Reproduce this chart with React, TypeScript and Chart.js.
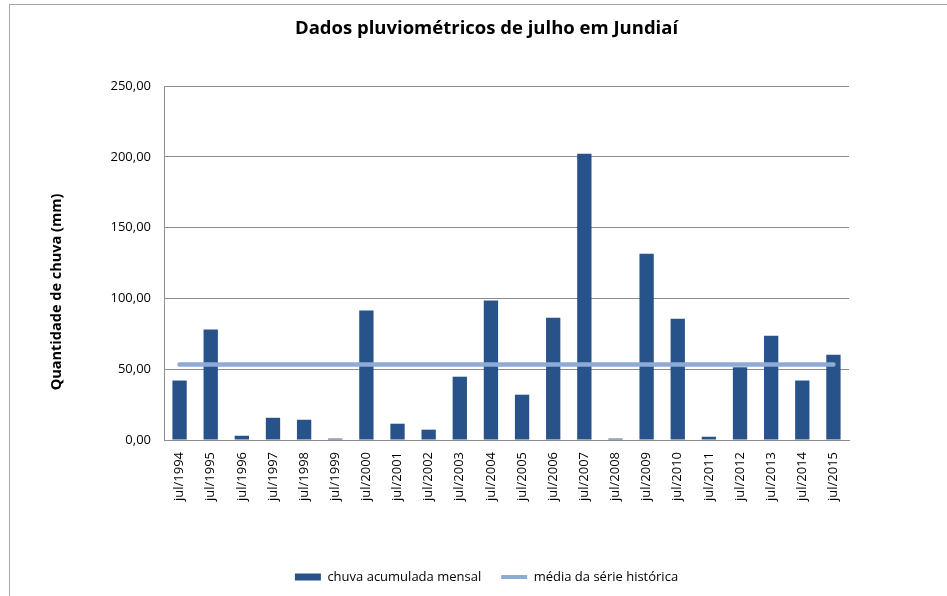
import React, { useEffect, useRef } from "react";
import { Chart, registerables } from "chart.js";

Chart.register(...registerables);

const categories = [
  "jul/1994", "jul/1995", "jul/1996", "jul/1997", "jul/1998", "jul/1999",
  "jul/2000", "jul/2001", "jul/2002", "jul/2003", "jul/2004", "jul/2005",
  "jul/2006", "jul/2007", "jul/2008", "jul/2009", "jul/2010", "jul/2011",
  "jul/2012", "jul/2013", "jul/2014", "jul/2015",
];

const monthlyRain = [
  42.0, 78.0, 3.0, 15.7, 14.3, 1.0, 91.4, 11.5, 7.3, 44.7, 98.6, 32.0,
  86.4, 202.2, 1.0, 131.6, 85.7, 2.3, 51.3, 73.6, 42.0, 60.2,
];

const historicalMean = [
  53.4, 53.4, 53.4, 53.4, 53.4, 53.4, 53.4, 53.4, 53.4, 53.4, 53.4, 53.4,
  53.4, 53.4, 53.4, 53.4, 53.4, 53.4, 53.4, 53.4, 53.4, 53.4,
];

const yTicks = [0, 50, 100, 150, 200, 250];

const titleText = "Dados pluviométricos de julho em Jundiaí";
const yTitleText = "Quantidade de chuva (mm)";
const barLabel = "chuva acumulada mensal";
const lineLabel = "média da série histórica";

const FONT = "'Open Sans', sans-serif";

const framePlugin = {
  id: "frameAndYTitle",
  beforeDraw(chart: any) {
    const ctx = chart.ctx;
    ctx.save();
    ctx.fillStyle = "#ffffff";
    ctx.fillRect(0, 0, chart.width, chart.height);
    ctx.strokeStyle = "#a6a6a6";
    ctx.lineWidth = 1;
    ctx.strokeRect(9.5, 4.5, 2000, 2000);
    ctx.restore();
  },
  afterDraw(chart: any) {
    const ctx = chart.ctx;
    ctx.save();
    ctx.translate(57, 292);
    ctx.rotate(-Math.PI / 2);
    ctx.font = `bold 14.5px ${FONT}`;
    ctx.fillStyle = "#000000";
    ctx.textAlign = "center";
    ctx.textBaseline = "middle";
    ctx.fillText(yTitleText, 0, 0);
    ctx.restore();
  },
};

export default function App() {
  const ref = useRef<HTMLCanvasElement | null>(null);

  useEffect(() => {
    if (!ref.current) return;
    const chart = new Chart(ref.current, {
      type: "bar",
      data: {
        labels: categories,
        datasets: [
          {
            type: "bar",
            label: barLabel,
            data: monthlyRain,
            backgroundColor: "#27538a",
            borderWidth: 0,
            barPercentage: 0.46,
            categoryPercentage: 1,
            order: 2,
          },
          {
            type: "line",
            label: lineLabel,
            data: historicalMean,
            borderColor: "#8eaad6",
            backgroundColor: "#8eaad6",
            borderWidth: 4.5,
            borderCapStyle: "round",
            pointRadius: 0,
            fill: false,
            order: 1,
          },
        ],
      } as any,
      options: {
        responsive: false,
        animation: false,
        devicePixelRatio: 1,
        layout: { padding: { left: 26, right: 0, top: 0, bottom: 2.5 } },
        scales: {
          x: {
            offset: true,
            grid: { display: false, drawTicks: false },
            border: { display: true, color: "#8c8c8c", width: 1 },
            ticks: {
              autoSkip: false,
              maxRotation: 90,
              minRotation: 90,
              padding: 12,
              color: "#000000",
              font: { family: FONT, size: 13 },
            },
            afterFit(s: any) {
              s.height = 110.5;
            },
          },
          y: {
            min: 0,
            max: 250,
            afterBuildTicks(s: any) {
              s.ticks = yTicks.map((v) => ({ value: v }));
            },
            grid: { color: "#8c8c8c", lineWidth: 1, drawTicks: false },
            border: { display: true, color: "#8c8c8c", width: 1 },
            ticks: {
              padding: 13,
              color: "#000000",
              font: { family: FONT, size: 13 },
              callback: (v: any) => Number(v).toFixed(2).replace(".", ","),
            },
            afterFit(s: any) {
              s.width = 138;
            },
          },
          yRight: {
            type: "linear",
            position: "right",
            display: true,
            grid: { display: false, drawTicks: false },
            border: { display: false },
            ticks: { display: false },
            afterFit(s: any) {
              s.width = 98;
            },
          },
        },
        plugins: {
          title: {
            display: true,
            text: titleText,
            color: "#000000",
            font: { family: FONT, size: 18.5, weight: "bold", lineHeight: 1.2 },
            padding: { top: 17.9, bottom: 45.9 },
          },
          legend: {
            display: true,
            position: "bottom",
            labels: {
              usePointStyle: true,
              pointStyleWidth: 26,
              boxHeight: 7,
              padding: 20,
              color: "#000000",
              font: { family: FONT, size: 13 },
              generateLabels(c: any) {
                const items = Chart.defaults.plugins.legend.labels.generateLabels(c);
                items.sort((a: any, b: any) => a.datasetIndex - b.datasetIndex);
                items.forEach((it: any) => {
                  if (it.datasetIndex === 0) {
                    it.pointStyle = "rect";
                    it.lineWidth = 0;
                  } else {
                    it.pointStyle = "line";
                    it.lineWidth = 4;
                    it.lineCap = "butt";
                  }
                });
                return items;
              },
            },
          },
          tooltip: { enabled: false },
        },
      } as any,
      plugins: [framePlugin],
    });
    return () => chart.destroy();
  }, []);

  return (
    <div style={{ position: "absolute", left: 0, top: 0, width: 947, height: 596 }}>
      <canvas ref={ref} width={947} height={596} style={{ display: "block" }} />
    </div>
  );
}
